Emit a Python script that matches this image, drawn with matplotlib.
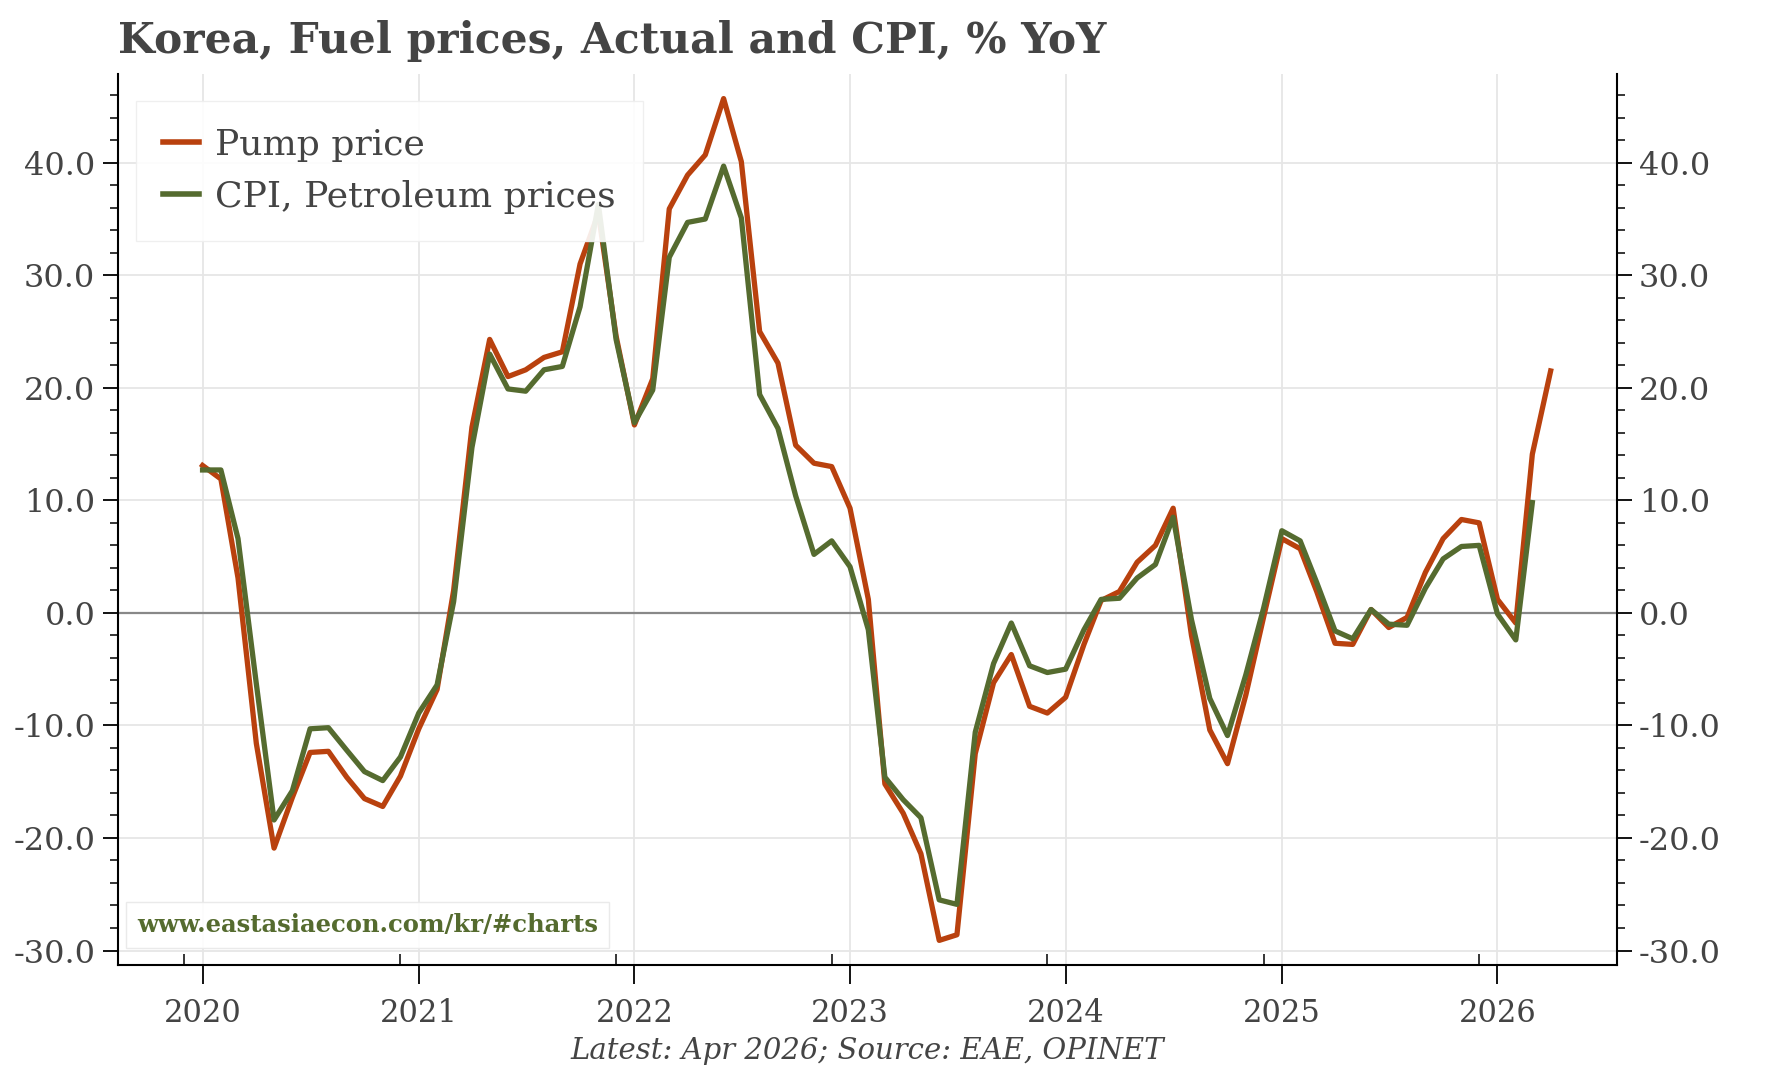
import matplotlib.pyplot as plt
import matplotlib.dates as mdates
from matplotlib.ticker import MultipleLocator, FormatStrFormatter
import pandas as pd

plt.rcParams['font.family'] = ['DejaVu Serif']

months = pd.date_range("2020-01-01", "2026-04-01", freq="MS")

pump_price = [
    13.1, 11.9, 3.1, -11.6, -20.9, -16.4, -12.4, -12.3, -14.6, -16.5, -17.2, -14.5,
    -10.3, -6.8, 2.0, 16.5, 24.3, 21.0, 21.6, 22.7, 23.2, 31.0, 35.5, 24.6,
    16.7, 20.8, 35.9, 38.9, 40.7, 45.7, 40.1, 25.0, 22.2, 14.9, 13.3, 13.0,
    9.3, 1.2, -15.2, -17.8, -21.4, -29.1, -28.6, -12.5, -6.2, -3.7, -8.3, -8.9,
    -7.5, -2.8, 1.1, 1.9, 4.5, 6.0, 9.3, -2.0, -10.4, -13.4, -7.3, -0.4,
    6.6, 5.7, 1.9, -2.7, -2.8, 0.3, -1.3, -0.4, 3.6, 6.6, 8.3, 8.0,
    1.2, -0.9, 14.1, 21.5,
]

cpi_petroleum = [
    12.7, 12.7, 6.6, -6.3, -18.4, -15.8, -10.3, -10.2, -12.2, -14.1, -14.9, -12.8,
    -8.9, -6.4, 1.0, 14.7, 23.0, 19.9, 19.7, 21.6, 21.9, 27.2, 36.3, 24.3,
    16.9, 19.8, 31.6, 34.7, 35.0, 39.7, 35.1, 19.4, 16.4, 10.4, 5.2, 6.4,
    4.1, -1.5, -14.6, -16.6, -18.2, -25.5, -25.9, -10.6, -4.5, -0.9, -4.7, -5.3,
    -5.0, -1.5, 1.2, 1.3, 3.1, 4.3, 8.5, -0.6, -7.6, -10.9, -5.5, 0.4,
    7.3, 6.4, 2.7, -1.6, -2.3, 0.3, -1.0, -1.1, 2.2, 4.8, 5.9, 6.0,
    -0.1, -2.4, 9.8,
]

text_color = "#444444"
orange = "#B9410E"
green = "#556B2F"

fig = plt.figure(figsize=(17.67, 10.70), dpi=100)
ax = fig.add_axes([0.0665, 0.098, 0.8485, 0.833])

ax.axhline(0, color="#888888", lw=1.6, zorder=1)
ax.plot(months, pump_price, color=orange, lw=3.8, label="Pump price", zorder=3)
ax.plot(months[:len(cpi_petroleum)], cpi_petroleum, color=green, lw=3.8,
        label="CPI, Petroleum prices", zorder=3)

ax.set_ylim(-31.3, 47.9)
ax.set_xlim(pd.Timestamp("2019-08-10"), pd.Timestamp("2026-07-22"))

ax.yaxis.set_major_locator(MultipleLocator(10))
ax.yaxis.set_minor_locator(MultipleLocator(2))
ax.yaxis.set_major_formatter(FormatStrFormatter("%.1f"))
ax.xaxis.set_major_locator(mdates.YearLocator())
ax.xaxis.set_major_formatter(mdates.DateFormatter("%Y"))
ax.xaxis.set_minor_locator(mdates.MonthLocator(bymonth=12))

ax.grid(True, which="major", color="#e6e6e6", lw=1.3, zorder=0)
ax.set_axisbelow(True)

for side in ["left", "right", "bottom"]:
    ax.spines[side].set_color("black")
    ax.spines[side].set_linewidth(1.5)
ax.spines["top"].set_visible(False)

ax.tick_params(axis="y", which="major", length=11, width=1.3, direction="out",
               labelsize=23, labelcolor=text_color, left=True, right=True,
               labelleft=True, labelright=True, pad=5)
ax.tick_params(axis="y", which="minor", length=6, width=1.1, direction="out",
               left=True, right=True)
ax.tick_params(axis="x", which="major", length=14, width=1.3, direction="out",
               labelsize=22, labelcolor=text_color, pad=10)
ax.tick_params(axis="x", which="minor", length=8, width=1.1, direction="in")

leg = ax.legend(loc="upper left", fontsize=26, frameon=True, handlelength=1.0,
                handletextpad=0.45, borderpad=0.75, labelspacing=0.5,
                bbox_to_anchor=(0.0, 0.99))
leg.get_frame().set_edgecolor("#eeeeee")
leg.get_frame().set_alpha(0.9)
leg.get_frame().set_boxstyle("square", pad=0.0)
for t in leg.get_texts():
    t.set_color(text_color)
for line in leg.get_lines():
    line.set_linewidth(4)

ax.text(0.013, 0.032, "www.eastasiaecon.com/kr/#charts", transform=ax.transAxes,
        fontsize=17.5, fontweight="bold", color=green, ha="left", va="bottom",
        bbox=dict(boxstyle="square,pad=0.45", facecolor="white",
                  edgecolor="#e8e8e8", alpha=0.9))

fig.text(0.0665, 0.962, "Korea, Fuel prices, Actual and CPI, % YoY", fontsize=30.5,
         fontweight="bold", color=text_color, ha="left", va="center")
fig.text(0.491, 0.005, "Latest: Apr 2026; Source: EAE, OPINET", fontsize=21,
         style="italic", color=text_color, ha="center", va="bottom")

fig.savefig("out.png", dpi=100)
